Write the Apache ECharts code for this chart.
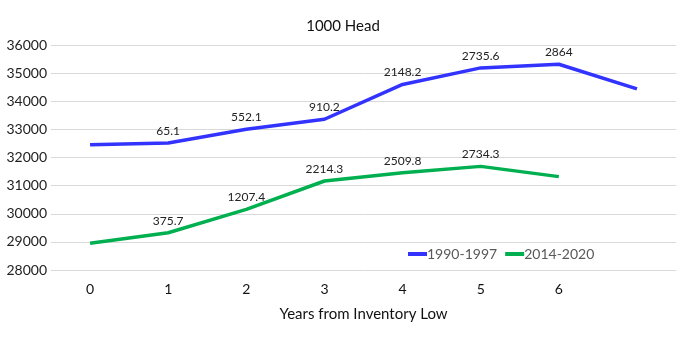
<!DOCTYPE html>
<html>
<head>
<meta charset="utf-8">
<script src="https://cdn.jsdelivr.net/npm/echarts@6/dist/echarts.min.js"></script>
<style>
  html, body { margin: 0; padding: 0; background: #fff; }
  #chart { width: 686px; height: 354px; }
</style>
</head>
<body>
<div id="chart"></div>
<script>
var categories = ['0', '1', '2', '3', '4', '5', '6', '']
var blueValues = [32450, 32515.1, 33002.1, 33360.2, 34598.2, 35185.6, 35314, 34440]
var blueLabels = ['', '65.1', '552.1', '910.2', '2148.2', '2735.6', '2864', '']
var greenValues = [28950, 29325.7, 30157.4, 31164.3, 31459.8, 31684.3, 31320]
var greenLabels = ['', '375.7', '1207.4', '2214.3', '2509.8', '2734.3', '']

var chart = echarts.init(document.getElementById('chart'))

var labelStyle = function (list) {
  return {
    show: true,
    position: 'top',
    distance: 6,
    color: '#222',
    fontSize: 12,
    fontFamily: 'Lato',
    formatter: function (p) {
      return list[p.dataIndex]
    }
  }
}

var option = {
  backgroundColor: '#fff',
  animation: false,
  textStyle: { fontFamily: 'Lato' },
  title: {
    text: '1000 Head',
    left: 'center',
    top: 14,
    textStyle: { fontSize: 15, fontWeight: 'normal', color: '#111', fontFamily: 'Lato' }
  },
  grid: {
    left: 51,
    right: 10,
    top: 45,
    bottom: 84
  },
  legend: {
    left: 403,
    top: 242,
    itemWidth: 19,
    itemHeight: 4,
    itemGap: 8,
    icon: 'rect',
    textStyle: { color: '#595959', fontSize: 14, fontFamily: 'Lato', padding: [0, 0, 0, -5] },
    data: ['1990-1997', '2014-2020']
  },
  xAxis: {
    type: 'category',
    data: categories,
    boundaryGap: true,
    name: 'Years from Inventory Low',
    nameLocation: 'middle',
    nameGap: 37,
    nameTextStyle: { fontSize: 15, color: '#111', fontFamily: 'Lato' },
    axisLine: { show: false },
    axisTick: { show: false },
    axisLabel: { color: '#111', fontSize: 14, margin: 12, fontFamily: 'Lato' }
  },
  yAxis: {
    type: 'value',
    min: 28000,
    max: 36000,
    interval: 1000,
    axisLine: { show: false },
    axisTick: { show: false },
    axisLabel: {
      color: '#222',
      fontSize: 14,
      margin: 4,
      fontFamily: 'Lato',
      formatter: function (v) { return String(v) }
    },
    splitLine: { lineStyle: { color: '#d9d9d9', width: 1 } }
  },
  series: [
    {
      name: '1990-1997',
      type: 'line',
      data: blueValues,
      symbol: 'circle',
      symbolSize: 0,
      showSymbol: true,
      color: '#3333ff',
      lineStyle: { width: 3.5, color: '#3333ff' },
      label: labelStyle(blueLabels)
    },
    {
      name: '2014-2020',
      type: 'line',
      data: greenValues,
      symbol: 'circle',
      symbolSize: 0,
      showSymbol: true,
      color: '#00b050',
      lineStyle: { width: 3.5, color: '#00b050' },
      label: labelStyle(greenLabels)
    }
  ]
}
chart.setOption(option)
</script>
</body>
</html>
